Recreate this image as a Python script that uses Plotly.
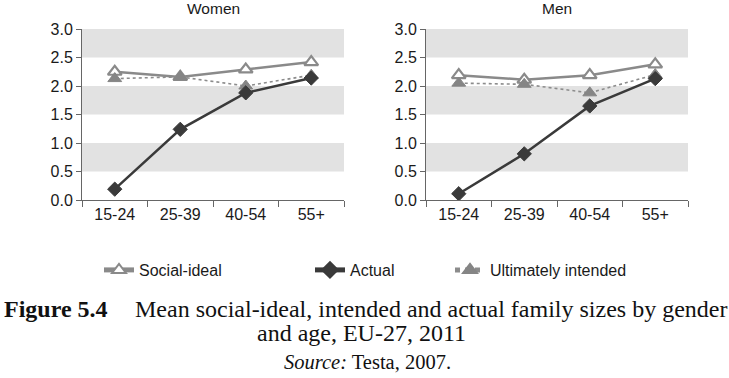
import plotly.graph_objects as go

ages = ["15-24", "25-39", "40-54", "55+"]
women_social = [2.25, 2.16, 2.29, 2.42]
women_actual = [0.19, 1.24, 1.88, 2.14]
women_intended = [2.13, 2.16, 2.00, 2.19]
men_social = [2.19, 2.11, 2.19, 2.38]
men_actual = [0.11, 0.81, 1.65, 2.13]
men_intended = [2.05, 2.03, 1.88, 2.20]
panel_titles = ["Women", "Men"]
series_names = ["Social-ideal", "Actual", "Ultimately intended"]
y_ticks = [0, 0.5, 1.0, 1.5, 2.0, 2.5, 3.0]
bands = [(0.5, 1.0), (1.5, 2.0), (2.5, 3.0)]

W, H = 729, 378
def px_x(p): return p / W
def px_y(p): return 1 - p / H

SOC_C = "#8a8a8a"
ACT_C = "#3a3a3a"
INT_C = "#8c8c8c"

fig = go.Figure()
panels = [
    ("x", "y", women_social, women_actual, women_intended),
    ("x2", "y2", men_social, men_actual, men_intended),
]
for i, (xa, ya, soc, act, inten) in enumerate(panels):
    first = i == 0
    fig.add_trace(go.Scatter(
        x=ages, y=soc, xaxis=xa, yaxis=ya, mode="lines+markers",
        name=series_names[0], legend="legend", showlegend=first,
        line=dict(color=SOC_C, width=2.5),
        marker=dict(symbol="triangle-up", size=12, color="white",
                    line=dict(color=SOC_C, width=2.2)),
    ))
    fig.add_trace(go.Scatter(
        x=ages, y=inten, xaxis=xa, yaxis=ya, mode="lines+markers",
        name=series_names[2], legend="legend3", showlegend=first,
        line=dict(color=INT_C, width=1.6, dash="dot"),
        marker=dict(symbol="triangle-up", size=12, color="#858585",
                    line=dict(color="#858585", width=1)),
    ))
    fig.add_trace(go.Scatter(
        x=ages, y=act, xaxis=xa, yaxis=ya, mode="lines+markers",
        name=series_names[1], legend="legend2", showlegend=first,
        line=dict(color=ACT_C, width=2.5),
        marker=dict(symbol="diamond", size=11, color=ACT_C,
                    line=dict(color=ACT_C, width=1)),
    ))

shapes = []
for xa, ya in [("x", "y"), ("x2", "y2")]:
    for b0, b1 in bands:
        shapes.append(dict(type="rect", xref=f"{xa} domain", yref=ya,
                           x0=0, x1=1, y0=b0, y1=b1,
                           fillcolor="#e2e2e2", line=dict(width=0), layer="below"))

ydom = [px_y(200), px_y(29)]
axis_font = dict(family="Liberation Sans, Arial, sans-serif", size=16, color="#1a1a1a")

def xaxis_cfg(d):
    return dict(domain=d, type="category", range=[-0.5, 3.5], showline=True,
                linecolor="#666666", linewidth=1, ticks="outside", tickson="boundaries",
                ticklen=6, tickcolor="#666666", showgrid=False, zeroline=False,
                tickfont=axis_font, fixedrange=True, automargin=False)

def yaxis_cfg(anchor):
    return dict(domain=ydom, range=[0, 3], tickvals=y_ticks, tickformat=".1f",
                showline=True, linecolor="#666666", linewidth=1, ticks="outside",
                ticklen=5, tickcolor="#666666", showgrid=False, zeroline=False,
                tickfont=axis_font, anchor=anchor, fixedrange=True, automargin=False)

xd1 = [px_x(82), px_x(344)]
xd2 = [px_x(426), px_x(688)]

annotations = []
for t, d in zip(panel_titles, [xd1, xd2]):
    annotations.append(dict(text=t, x=(d[0] + d[1]) / 2, y=px_y(8), xref="paper", yref="paper",
                            showarrow=False, xanchor="center", yanchor="middle",
                            font=dict(family="Liberation Sans, Arial, sans-serif", size=15.5, color="#1a1a1a")))

serif = "Liberation Serif, Times New Roman, serif"
annotations += [
    dict(text="<b>Figure 5.4</b>", x=px_x(2), y=px_y(309), xref="paper", yref="paper",
         showarrow=False, xanchor="left", yanchor="middle",
         font=dict(family=serif, size=24, color="#111")),
    dict(text="Mean social-ideal, intended and actual family sizes by gender",
         x=px_x(133), y=px_y(309), xref="paper", yref="paper",
         showarrow=False, xanchor="left", yanchor="middle",
         font=dict(family=serif, size=24, color="#111")),
    dict(text="and age, EU-27, 2011", x=px_x(361), y=px_y(333), xref="paper", yref="paper",
         showarrow=False, xanchor="center", yanchor="middle",
         font=dict(family=serif, size=24, color="#111")),
    dict(text="<i>Source:</i> Testa, 2007.", x=px_x(367), y=px_y(362), xref="paper", yref="paper",
         showarrow=False, xanchor="center", yanchor="middle",
         font=dict(family=serif, size=20.5, color="#111")),
]

leg_font = dict(family="Liberation Sans, Arial, sans-serif", size=16, color="#1a1a1a")
def leg(xpx):
    return dict(x=px_x(xpx), y=px_y(270), xanchor="left", yanchor="middle",
                orientation="h", font=leg_font, bgcolor="rgba(0,0,0,0)",
                borderwidth=0, itemsizing="constant")

fig.update_layout(
    template="none",
    width=W, height=H, margin=dict(l=0, r=0, t=0, b=0, autoexpand=False),
    paper_bgcolor="white", plot_bgcolor="white",
    xaxis=xaxis_cfg(xd1), yaxis=yaxis_cfg("x"),
    xaxis2=xaxis_cfg(xd2), yaxis2=yaxis_cfg("x2"),
    shapes=shapes, annotations=annotations,
    legend=leg(99), legend2=leg(310), legend3=leg(450),
    showlegend=True,
)

fig.write_html("out.html", config={"displayModeBar": False},
               post_script="document.body.style.margin='0';")
